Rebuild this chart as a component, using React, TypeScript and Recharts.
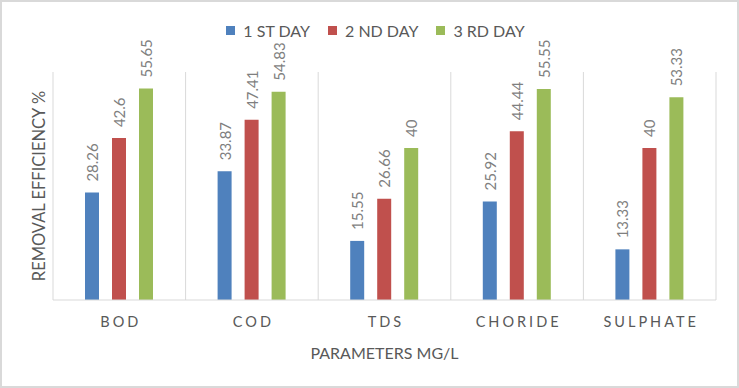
import { Bar, BarChart, CartesianGrid, LabelList, Legend, XAxis, YAxis } from "recharts";

const categories = ["BOD", "COD", "TDS", "CHORIDE", "SULPHATE"];
const day1 = [28.26, 33.87, 15.55, 25.92, 13.33];
const day2 = [42.6, 47.41, 26.66, 44.44, 40];
const day3 = [55.65, 54.83, 40, 55.55, 53.33];
const seriesNames = ["1 ST DAY", "2 ND DAY", "3 RD DAY"];
const seriesColors = ["#4F81BD", "#C0504D", "#9BBB59"];

const data = categories.map((name, i) => ({
  name,
  d1: day1[i],
  d2: day2[i],
  d3: day3[i],
}));

const FONT = "Lato, 'Open Sans', sans-serif";
const TEXT = "#595959";
const GRID = "#d9d9d9";

function ValueLabel(props: any) {
  const { x, y, width, value } = props;
  const cx = Number(x) + Number(width) / 2;
  const ty = Number(y) - 11;
  return (
    <text
      x={cx}
      y={ty}
      transform={`rotate(-90, ${cx}, ${ty})`}
      textAnchor="start"
      dominantBaseline="central"
      fill="#7f7f7f"
      fontSize={15}
      fontFamily={FONT}
    >
      {value}
    </text>
  );
}

function CategoryTick(props: any) {
  const { x, y, payload } = props;
  return (
    <text
      x={x + 1.5}
      y={y + 13}
      textAnchor="middle"
      dominantBaseline="central"
      fill={TEXT}
      fontSize={14.5}
      letterSpacing={3}
      fontFamily={FONT}
    >
      {payload.value}
    </text>
  );
}

function LegendRow() {
  return (
    <div
      style={{
        display: "flex",
        justifyContent: "center",
        gap: 18,
        fontFamily: FONT,
        fontSize: 16,
        color: TEXT,
        paddingLeft: 12,
      }}
    >
      {seriesNames.map((n, i) => (
        <div key={n} style={{ display: "flex", alignItems: "center" }}>
          <span
            style={{
              display: "inline-block",
              width: 9,
              height: 9,
              background: seriesColors[i],
              marginRight: 8,
            }}
          />
          {n}
        </div>
      ))}
    </div>
  );
}

export default function App() {
  return (
    <div
      style={{
        position: "absolute",
        left: 0,
        top: 0,
        width: 739,
        height: 388,
        background: "#fff",
      }}
    >
      <BarChart
        width={739}
        height={388}
        data={data}
        margin={{ top: 52, right: 23, left: 53, bottom: 58 }}
        barSize={14}
        barGap={13}
      >
        <CartesianGrid
          horizontal={false}
          stroke={GRID}
          verticalCoordinatesGenerator={({ offset }: any) =>
            categories
              .map((_, i) => offset.left + (i * offset.width) / categories.length)
              .concat([offset.left + offset.width])
          }
        />
        <XAxis
          dataKey="name"
          height={30}
          axisLine={{ stroke: GRID }}
          tickLine={false}
          tick={<CategoryTick />}
          interval={0}
        />
        <YAxis hide domain={[0, 60]} />
        <Legend
          verticalAlign="top"
          height={20}
          content={<LegendRow />}
          wrapperStyle={{ top: 21, left: 0, width: 739 }}
        />
        <Bar dataKey="d1" name={seriesNames[0]} fill={seriesColors[0]} isAnimationActive={false}>
          <LabelList dataKey="d1" content={<ValueLabel />} />
        </Bar>
        <Bar dataKey="d2" name={seriesNames[1]} fill={seriesColors[1]} isAnimationActive={false}>
          <LabelList dataKey="d2" content={<ValueLabel />} />
        </Bar>
        <Bar dataKey="d3" name={seriesNames[2]} fill={seriesColors[2]} isAnimationActive={false}>
          <LabelList dataKey="d3" content={<ValueLabel />} />
        </Bar>
        <text
          x={384.5}
          y={352}
          textAnchor="middle"
          dominantBaseline="central"
          fill={TEXT}
          fontSize={16}
          fontFamily={FONT}
        >
          PARAMETERS MG/L
        </text>
        <text
          x={39}
          y={186}
          transform="rotate(-90, 39, 186)"
          textAnchor="middle"
          dominantBaseline="central"
          fill={TEXT}
          fontSize={16.5}
          fontFamily={FONT}
        >
          REMOVAL EFFICIENCY %
        </text>
      </BarChart>
      <div
        style={{
          position: "absolute",
          inset: 0,
          border: "2px solid #d9d9d9",
          pointerEvents: "none",
        }}
      />
    </div>
  );
}
